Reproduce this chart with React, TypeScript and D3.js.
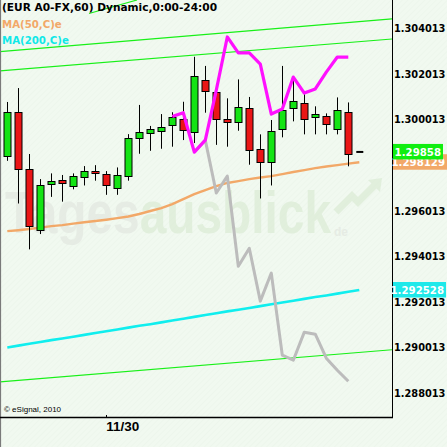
import React from 'react';
import * as d3 from 'd3';

// ---- data (EUR A0-FX, 60 min) ----
const opens = [1.29839, 1.30032, 1.29782, 1.29518, 1.29716, 1.29735, 1.29707, 1.29747, 1.29775, 1.29760, 1.29698, 1.29751, 1.29918, 1.29940, 1.29948, 1.29975, 1.30001, 1.29944, 1.30172, 1.30121, 1.30001, 1.29988, 1.30049, 1.29869, 1.29812, 1.29957, 1.30049, 1.30071, 1.30010, 1.30014, 1.29957, 1.30032];
const highs = [1.30077, 1.30138, 1.29849, 1.29739, 1.29764, 1.29757, 1.29764, 1.29796, 1.29800, 1.29774, 1.29790, 1.29936, 1.30064, 1.29972, 1.30024, 1.30032, 1.30078, 1.30275, 1.30235, 1.30157, 1.30093, 1.30176, 1.30099, 1.29935, 1.29998, 1.30235, 1.30173, 1.30111, 1.30058, 1.30027, 1.30097, 1.30075];
const lows = [1.29819, 1.29632, 1.29431, 1.29498, 1.29661, 1.29640, 1.29694, 1.29711, 1.29732, 1.29670, 1.29670, 1.29732, 1.29850, 1.29863, 1.29872, 1.29881, 1.29910, 1.29897, 1.30030, 1.29889, 1.29881, 1.29951, 1.29802, 1.29654, 1.29711, 1.29922, 1.29992, 1.29935, 1.29935, 1.29935, 1.29935, 1.29795];
const closes = [1.30032, 1.29782, 1.29532, 1.29711, 1.29729, 1.29720, 1.29751, 1.29774, 1.29764, 1.29711, 1.29755, 1.29918, 1.29944, 1.29957, 1.29966, 1.30010, 1.29953, 1.30190, 1.30124, 1.30001, 1.29988, 1.30054, 1.29865, 1.29812, 1.29948, 1.30040, 1.30080, 1.30001, 1.30023, 1.29979, 1.30040, 1.29850];

const ma50 = [1.29511, 1.29515, 1.29520, 1.29526, 1.29533, 1.29537, 1.29544, 1.29550, 1.29555, 1.29561, 1.29568, 1.29575, 1.29586, 1.29599, 1.29612, 1.29629, 1.29651, 1.29673, 1.29691, 1.29708, 1.29722, 1.29730, 1.29739, 1.29746, 1.29752, 1.29761, 1.29770, 1.29778, 1.29787, 1.29794, 1.29800, 1.29807, 1.29813];
const ma200 = [1.29001, 1.29009, 1.29017, 1.29025, 1.29033, 1.29040, 1.29048, 1.29056, 1.29064, 1.29072, 1.29080, 1.29088, 1.29096, 1.29103, 1.29111, 1.29119, 1.29127, 1.29135, 1.29143, 1.29151, 1.29159, 1.29166, 1.29174, 1.29182, 1.29190, 1.29198, 1.29206, 1.29214, 1.29222, 1.29229, 1.29237, 1.29245, 1.29253];

const magentaStart = 15;
const magentaSeries = [1.30013, 1.30030, 1.29857, 1.29910, 1.30129, 1.30362, 1.30292, 1.30292, 1.30243, 1.30024, 1.30046, 1.30186, 1.30116, 1.30134, 1.30208, 1.30274, 1.30274];
const grayStart = 17;
const graySeries = [1.29857, 1.29910, 1.29678, 1.29752, 1.29357, 1.29436, 1.29204, 1.29327, 1.28967, 1.28945, 1.29068, 1.29059, 1.28954, 1.28901, 1.28853];

// trend lines: [index0, price0, index1, price1]
const trendLines = [
  [7.43, 1.30465, 11.79, 1.30524],
  [-0.664, 1.30298, 34.97, 1.30441],
  [-0.664, 1.30213, 34.97, 1.30353],
  [-0.664, 1.28850, 34.97, 1.28991],
];

const yTicks = [1.288013, 1.290013, 1.292013, 1.294013, 1.296013, 1.298013, 1.300013, 1.302013, 1.304013];
const xTickIndex = 9;
const xTickLabel = '11/30';
const lastPrice = 1.29858;
const ma50Last = 1.298129;
const ma200Last = 1.292528;
const titleText = '(EUR A0-FX,60) Dynamic,0:00-24:00';
const ma50Label = 'MA(50,C)e';
const ma200Label = 'MA(200,C)e';

const W = 447, H = 447;
const plotRight = 392, plotBottom = 417;
const FONT = 'DejaVu Sans, Verdana, sans-serif';

export default function App() {
  const x = d3.scaleLinear().domain([0, 31]).range([7.3, 348.3]);
  const y = d3.scaleLinear().domain([1.288013, 1.304013]).range([393, 28]);
  const px = (i: number) => Math.round(x(i)) + 0.5;

  const lineGen = d3.line<number>().x((_, i) => x(i)).y(d => y(d));
  const magLine = d3.line<number>().x((_, i) => x(i + magentaStart)).y(d => y(d));
  const grayLine = d3.line<number>().x((_, i) => x(i + grayStart)).y(d => y(d));

  const boxes = [
    { v: ma200Last, fill: '#1ee9ea', label: '1.292528', w: 53 },
    { v: ma50Last, fill: '#f2a868', label: '1.298129', w: 54 },
    { v: lastPrice, fill: '#10ee10', label: '1.29858', w: 50 },
  ];

  return (
    <svg width={W} height={H} style={{ position: 'absolute', left: 0, top: 0 }} xmlns="http://www.w3.org/2000/svg">
      <defs>
        <pattern id="hatch" width="4" height="4" patternUnits="userSpaceOnUse" patternTransform="rotate(45)">
          <rect width="4" height="4" fill="#f1f9f0" />
          <line x1="0" y1="0" x2="0" y2="4" stroke="#eaf4e9" strokeWidth="1" />
        </pattern>
        <clipPath id="plotClip">
          <rect x={0} y={0} width={plotRight} height={plotBottom} />
        </clipPath>
      </defs>
      <rect x={0} y={0} width={W} height={H} fill="url(#hatch)" />

      {/* watermark */}
      <g opacity={0.75}>
        <text x={5} y={233} fontFamily="Liberation Sans, Arial, sans-serif" fontWeight="bold" fontSize={60}
          textLength={326} lengthAdjust="spacingAndGlyphs">
          <tspan fill="#e3e8e1">Tages</tspan><tspan fill="#dcecd6">ausblick</tspan>
        </text>
        <text x={334} y={236} fontFamily="Liberation Sans, Arial, sans-serif" fontWeight="bold" fontSize={12} fill="#e3e8e1">de</text>
        <polyline points="336,212 352,196 358,202 376,184" fill="none" stroke="#dcecd6" strokeWidth={7} />
        <polygon points="368,180 382,178 380,192" fill="#dcecd6" />
      </g>

      {/* trend lines */}
      <g clipPath="url(#plotClip)">
        {trendLines.map((t, k) => (
          <line key={k} x1={x(t[0])} y1={y(t[1])} x2={x(t[2])} y2={y(t[3])} stroke="#18f018" strokeWidth={1.2} />
        ))}
        <path d={lineGen(ma200) || ''} fill="none" stroke="#10eeee" strokeWidth={2.6} />
        <path d={lineGen(ma50) || ''} fill="none" stroke="#f2a868" strokeWidth={2.4} />
      </g>

      {/* candles */}
      <g>
        {opens.map((o, i) => {
          const c = closes[i];
          const up = c >= o;
          const cx = px(i);
          const top = Math.round(y(Math.max(o, c))) + 0.5;
          const bot = Math.round(y(Math.min(o, c))) + 0.5;
          return (
            <g key={i}>
              <line x1={cx} x2={cx} y1={y(highs[i])} y2={y(lows[i])} stroke="#000" strokeWidth={1} />
              <rect x={cx - 3.5} y={top} width={7} height={Math.max(2, bot - top)}
                fill={up ? '#14e414' : '#ea1616'} stroke="#000" strokeWidth={1} />
            </g>
          );
        })}
      </g>

      {/* pattern lines */}
      <g clipPath="url(#plotClip)">
        <path d={grayLine(graySeries) || ''} fill="none" stroke="#bcbcbc" strokeWidth={3} strokeLinejoin="round" />
        <path d={magLine(magentaSeries) || ''} fill="none" stroke="#ff10ff" strokeWidth={3.2} strokeLinejoin="round" />
      </g>

      {/* current price dash */}
      <line x1={x(31) + 8} x2={x(31) + 15} y1={y(lastPrice)} y2={y(lastPrice)} stroke="#000" strokeWidth={2} />

      {/* axes */}
      <line x1={0.5} x2={0.5} y1={0} y2={H} stroke="#7a7a7a" strokeWidth={1.2} />
      <line x1={plotRight + 0.5} x2={plotRight + 0.5} y1={0} y2={plotBottom} stroke="#000" strokeWidth={1} />
      <line x1={0} x2={plotRight + 1} y1={plotBottom + 0.5} y2={plotBottom + 0.5} stroke="#000" strokeWidth={1.5} />
      <line x1={px(xTickIndex)} x2={px(xTickIndex)} y1={plotBottom - 2} y2={plotBottom} stroke="#000" strokeWidth={1} />
      <text x={x(xTickIndex)} y={431} fontFamily="Liberation Sans, Arial, sans-serif" fontWeight="bold" fontSize={13.5} fill="#000">{xTickLabel}</text>

      {yTicks.map(t => (
        <text key={t} x={394} y={y(t) + 4} fontFamily={FONT} fontWeight="bold" fontSize={9.8} fill="#000">{t.toFixed(6)}</text>
      ))}

      {/* price boxes */}
      {boxes.map(b => (
        <g key={b.label}>
          <rect x={393} y={y(b.v) - 8} width={b.w} height={15.5} fill={b.fill} />
          <text x={393 + b.w - 2} y={y(b.v) + 4} textAnchor="end" fontFamily={FONT} fontWeight="bold" fontSize={10.2} fill="#fff">{b.label}</text>
        </g>
      ))}

      {/* legend */}
      <text x={2} y={11} fontFamily={FONT} fontWeight="bold" fontSize={10.6} fill="#000">{titleText}</text>
      <text x={2} y={27.5} fontFamily={FONT} fontWeight="bold" fontSize={10.2} fill="#f2a868">{ma50Label}</text>
      <text x={2} y={43.5} fontFamily={FONT} fontWeight="bold" fontSize={10.2} fill="#10e8e8">{ma200Label}</text>

      <text x={4} y={412} fontFamily="Liberation Sans, Arial, sans-serif" fontSize={8} fill="#000">© eSignal, 2010</text>
    </svg>
  );
}
